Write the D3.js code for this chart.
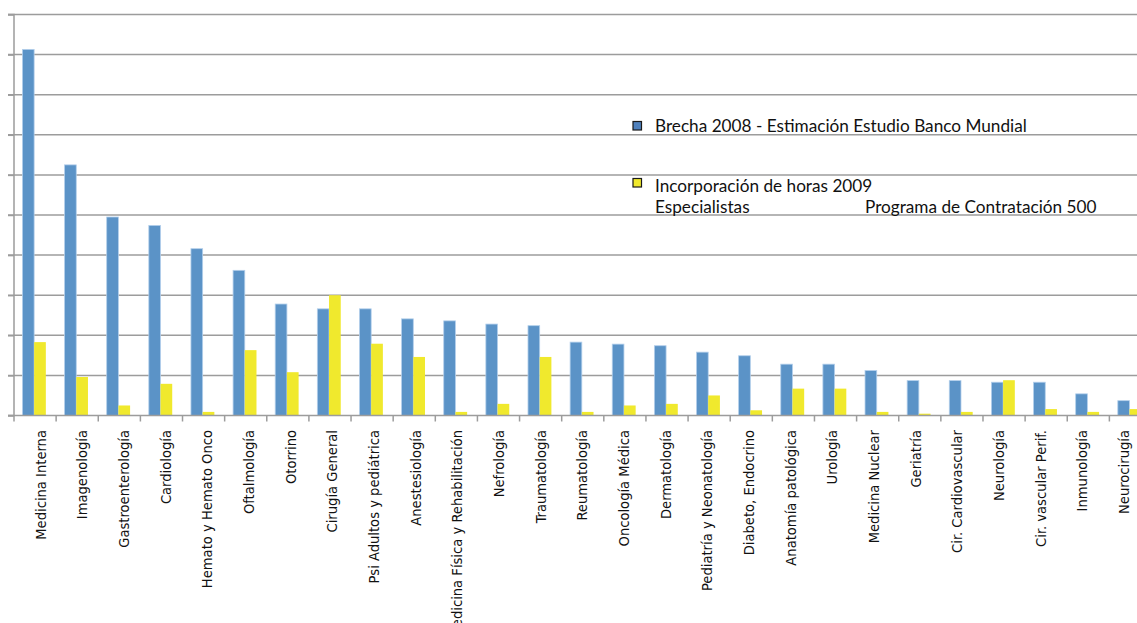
<!DOCTYPE html>
<html>
<head>
<meta charset="utf-8">
<script src="https://cdn.jsdelivr.net/npm/d3@7"></script>
<style>
  html, body { margin: 0; padding: 0; background: #fff; overflow: hidden; }
  svg { display: block; }
</style>
</head>
<body>
<svg id="chart" width="1137" height="623"></svg>
<script>
const categories = [
  "Medicina Interna", "Imagenología", "Gastroenterología", "Cardiología",
  "Hemato y Hemato Onco", "Oftalmología", "Otorrino", "Cirugía General",
  "Psi Adultos y pediátrica", "Anestesiología", "Medicina Física y Rehabilitación",
  "Nefrología", "Traumatología", "Reumatología", "Oncología Médica", "Dermatología",
  "Pediatría y Neonatología", "Diabeto, Endocrino", "Anatomía patológica", "Urología",
  "Medicina Nuclear", "Geriatría", "Cir. Cardiovascular", "Neurología",
  "Cir. vascular Perif.", "Inmunología", "Neurocirugía"
];
const brecha2008 = [
  91.3, 62.5, 49.5, 47.4, 41.6, 36.2, 27.8, 26.6, 26.6, 24.1, 23.6, 22.8, 22.4,
  18.3, 17.8, 17.4, 15.8, 14.9, 12.8, 12.8, 11.2, 8.7, 8.7, 8.3, 8.3, 5.4, 3.7
];
const incorporacion2009 = [
  18.3, 9.6, 2.5, 7.9, 0.9, 16.3, 10.8, 30.0, 17.9, 14.6, 0.9, 2.9, 14.6,
  0.9, 2.5, 2.9, 5.0, 1.3, 6.7, 6.7, 0.9, 0.45, 0.9, 8.8, 1.6, 0.9, 1.6
];
const seriesNames = ["Brecha 2008 - Estimación Estudio Banco Mundial", "Incorporación de horas 2009"];
const legendLine2 = ["Especialistas", "Programa de Contratación 500"];
const yTicks = [0, 10, 20, 30, 40, 50, 60, 70, 80, 90, 100];

const colors = { blue: "#5b93c7", blueEdge: "#b3cfeb", yellow: "#f0e92d", grid: "#9c9c9c" };

const svg = d3.select("#chart");
const W = 1137;
const left = 14, baseY = 415.5, topY = 14.5, step = 42.13;

const x = d3.scaleBand().domain(categories).range([left, left + step * categories.length]).padding(0);
const xs = d3.scaleBand().domain([0, 1]).range([0, x.bandwidth()]).paddingInner(0).paddingOuter(0.8).align(0.45);
const y = d3.scaleLinear().domain([0, 100]).range([baseY, topY]);
// category labels are laid out on a slightly tighter pitch than the bars
const xl = d3.scalePoint().domain(categories).range([40, 1123.4]);

// gridlines
svg.append("g").selectAll("line").data(yTicks.filter(d => d > 0)).join("line")
  .attr("x1", left - 6).attr("x2", W)
  .attr("y1", d => y(d)).attr("y2", d => y(d))
  .attr("stroke", colors.grid).attr("stroke-width", 1.5);

// left axis
const yAxis = d3.axisLeft(y).tickValues(yTicks).tickSize(6).tickFormat("");
const gy = svg.append("g").attr("transform", `translate(${left},0)`).call(yAxis);
gy.selectAll("path, line").attr("stroke", colors.grid).attr("stroke-width", 1.5);
gy.select(".domain").attr("d", `M-6,${y(100)}H0V${y(0)}H-6`);

// bars
const data = categories.map((c, i) => ({ c, vals: [brecha2008[i], incorporacion2009[i]] }));
const groups = svg.append("g").selectAll("g").data(data).join("g")
  .attr("transform", d => `translate(${x(d.c)},0)`);
groups.append("rect")
  .attr("x", xs(0)).attr("width", xs.bandwidth())
  .attr("y", d => y(d.vals[0])).attr("height", d => y(0) - y(d.vals[0]))
  .attr("fill", colors.blue).attr("stroke", colors.blueEdge).attr("stroke-width", 0.8);
groups.append("rect")
  .attr("x", xs(1)).attr("width", xs.bandwidth())
  .attr("y", d => y(d.vals[1])).attr("height", d => y(0) - y(d.vals[1]))
  .attr("fill", colors.yellow);

// bottom axis
const boundaries = categories.map(c => x(c)).concat([x.range()[1]]);
const gx = svg.append("g");
gx.append("line").attr("x1", left - 6).attr("x2", W).attr("y1", baseY).attr("y2", baseY)
  .attr("stroke", colors.grid).attr("stroke-width", 1.5);
gx.selectAll("line.tick").data(boundaries).join("line").attr("class", "tick")
  .attr("x1", d => d).attr("x2", d => d).attr("y1", baseY).attr("y2", baseY + 6)
  .attr("stroke", colors.grid).attr("stroke-width", 1.5);

// category labels
svg.append("g").selectAll("text").data(categories).join("text")
  .attr("transform", d => `translate(${xl(d) + 5.5},430) rotate(-90)`)
  .attr("text-anchor", "end")
  .attr("font-family", "'Liberation Sans Narrow', 'DejaVu Sans Condensed', 'Arial Narrow', sans-serif")
  .attr("font-size", 14.6)
  .attr("fill", "#111")
  .text(d => d);

// legend
const lg = svg.append("g").attr("font-family", "Lato, 'Liberation Sans', sans-serif").attr("font-size", 17.2).attr("fill", "#111");
lg.append("rect").attr("x", 633).attr("y", 121.5).attr("width", 8.5).attr("height", 8.5)
  .attr("fill", "#4f81bd").attr("stroke", "#1a1a1a").attr("stroke-width", 1.2);
lg.append("text").attr("x", 655).attr("y", 132).text(seriesNames[0]);
lg.append("rect").attr("x", 633).attr("y", 178.5).attr("width", 8.5).attr("height", 8.5)
  .attr("fill", colors.yellow).attr("stroke", "#1a1a1a").attr("stroke-width", 1.2);
lg.append("text").attr("x", 655).attr("y", 192).text(seriesNames[1]);
lg.append("text").attr("x", 655).attr("y", 212.5).text(legendLine2[0]);
lg.append("text").attr("x", 865).attr("y", 212.5).text(legendLine2[1]);
</script>
</body>
</html>
